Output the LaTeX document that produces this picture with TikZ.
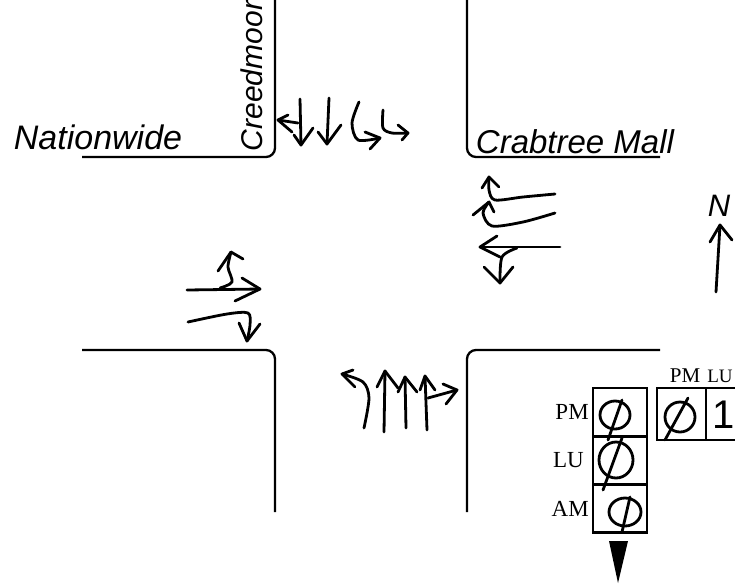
\documentclass[tikz,border=0pt]{standalone}
\usepackage{fontspec}
\setmainfont{Liberation Serif}
\newfontfamily\handfont{Liberation Sans}
\usetikzlibrary{positioning}
\begin{document}
\begin{tikzpicture}[x=1pt, y=-1pt,
          road/.style={draw, line width=2.3pt, rounded corners=9pt},
          ink/.style={line width=2.8pt, line cap=round, line join=round},
          hand/.style={font=\handfont\itshape\fontsize{#1}{#1}\selectfont, inner sep=0pt},
          cell/.style={draw, line width=2.2pt, inner sep=0pt, minimum width=#1, minimum height=48},
          tag/.style={font=\fontsize{23}{23}\selectfont, inner sep=0pt}]
        \useasboundingbox (0,0) rectangle (735,584);
        \clip (0,0) rectangle (735,584);
        % street corners
        \draw[road] (82,157) -- (275,157) -- (275,0);
        \draw[road] (467,0) -- (467,157) -- (660,157);
        \draw[road] (82,350) -- (275,350) -- (275,512);
        \draw[road] (467,512) -- (467,350) -- (660,350);
        % street names
        \node[hand=34] (nationwide) at (98,137) {Nationwide};
        \node[hand=30, rotate=90] (creedmoor) at (252,76) {Creedmoor};
        \node[hand=33] (crabtree) at (575,142) {Crabtree Mall};
        % southbound lanes
        \draw[ink] (298,123) -- (278,120); \draw[ink] (288,115) -- (278,120) -- (292,132);
        \draw[ink] (300,99) -- (301,145); \draw[ink] (294,135) -- (301,145) -- (313,128);
        \draw[ink] (329,98) -- (327,144); \draw[ink] (318,132) -- (327,144) -- (341,125);
        \draw[ink] plot[smooth] coordinates {(359,102) (352,123) (358,140) (380,138)};
        \draw[ink] (365,132) -- (380,138) -- (370,149);
        \draw[ink] plot[smooth] coordinates {(383,110) (383,128) (392,133) (408,133)};
        \draw[ink] (398,125) -- (408,133) -- (402,140);
        % westbound lanes
        \draw[ink] plot[smooth] coordinates {(555,194) (523,197) (495,200) (489,190) (489,177)};
        \draw[ink] (482,188) -- (489,177) -- (499,187);
        \draw[ink] plot[smooth] coordinates {(555,213) (523,222) (492,226) (483,213) (489,202)};
        \draw[ink] (473,215) -- (489,202) -- (494,212);
        \draw[ink] (560,247) -- (480,247); \draw[ink] (497,236) -- (480,247) -- (500,257);
        \draw[ink] plot[smooth] coordinates {(517,248) (502,257) (500,283)};
        \draw[ink] (484,267) -- (500,283) -- (513,267);
        % eastbound lanes
        \draw[ink] (187,290) -- (260,289); \draw[ink] (242,278) -- (260,289) -- (235,301);
        \draw[ink] plot[smooth] coordinates {(220,288) (232,282) (228,267) (231,252)};
        \draw[ink] (218,271) -- (231,252) -- (243,259);
        \draw[ink] plot[smooth] coordinates {(188,322) (227,314) (248,313) (250,325) (247,341)};
        \draw[ink] (239,323) -- (247,341) -- (260,324);
        % northbound lanes
        \draw[ink] plot[smooth] coordinates {(364,428) (369,398) (363,382) (342,374)};
        \draw[ink] (353,370) -- (342,374) -- (355,387);
        \draw[ink] (384,432) -- (385,371); \draw[ink] (377,387) -- (385,371) -- (398,388);
        \draw[ink] (406,428) -- (405,377); \draw[ink] (398,392) -- (405,377) -- (417,392);
        \draw[ink] (427,430) -- (425,376); \draw[ink] (420,390) -- (425,376) -- (435,390);
        \draw[ink] (428,398) -- (457,390); \draw[ink] (443,384) -- (457,390) -- (446,404);
        % north arrow
        \node[hand=31] (north) at (719,206) {N};
        \draw[ink] (716,292) -- (720,225); \draw[ink] (710,242) -- (720,225) -- (732,240);
        % count table
        \node[cell=54] (pmcell) at (620,412) {};
        \node[cell=54] (lucell) at (620,460.5) {};
        \node[cell=54] (amcell) at (620,508.5) {};
        \node[cell=49, minimum height=52] (pmtop) at (681.5,414) {};
        \node[cell=60, minimum height=52] (lutop) at (736,414) {};
        \node[tag, left=3pt of pmcell] (pmtag) {PM};
        \node[tag, left=8pt of lucell] (lutag) {LU};
        \node[tag, left=3pt of amcell] (amtag) {AM};
        \node[tag, font=\fontsize{21}{21}\selectfont] (pmhead) at (685,376) {PM};
        \node[tag, font=\fontsize{19}{19}\selectfont] (luhead) at (720,376) {LU};
        \node[font=\handfont\fontsize{40}{40}\selectfont, inner sep=0pt] (one) at (724,415) {1};
        \draw[ink] (615,415) ellipse [x radius=15, y radius=14];
        \draw[ink] (622,400) -- (608,440);
        \draw[ink] (616,460) ellipse [x radius=17, y radius=18];
        \draw[ink] (622,438) -- (603,490);
        \draw[ink] (625,512) ellipse [x radius=16, y radius=14];
        \draw[ink] (630,497) -- (622,532);
        \draw[ink] (680,417) ellipse [x radius=15, y radius=15];
        \draw[ink] (688,398) -- (665,440);
        % approach marker
        \fill (609,541) -- (628,541) -- (618,583) -- cycle;
      \end{tikzpicture}
\end{document}
